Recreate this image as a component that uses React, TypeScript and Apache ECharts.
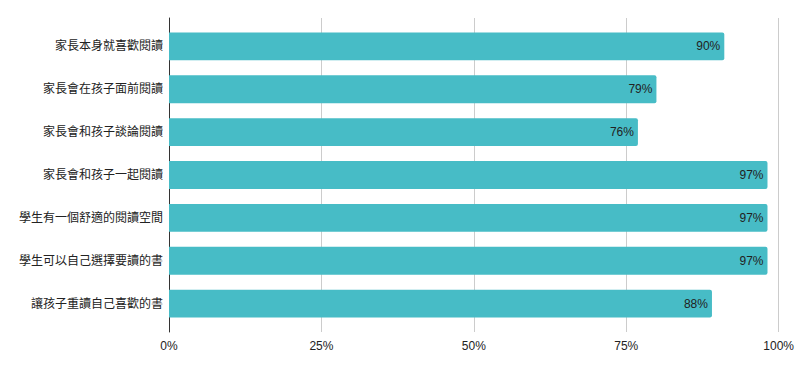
import React, { useEffect, useRef } from "react";
import * as echarts from "echarts";

const categories = [
  "家長本身就喜歡閱讀",
  "家長會在孩子面前閱讀",
  "家長會和孩子談論閱讀",
  "家長會和孩子一起閱讀",
  "學生有一個舒適的閱讀空間",
  "學生可以自己選擇要讀的書",
  "讓孩子重讀自己喜歡的書",
];
const values = [90, 79, 76, 97, 97, 97, 88];
const xTicks = [0, 25, 50, 75, 100];

export default function App() {
  const ref = useRef<HTMLDivElement>(null);
  useEffect(() => {
    if (!ref.current) return;
    const chart = echarts.init(ref.current, null, { renderer: "svg" });
    const font = "'Liberation Sans', 'Noto Sans CJK TC', sans-serif";
    chart.setOption({
      animation: false,
      textStyle: { fontFamily: font },
      grid: [
        { left: 161, right: 11, top: 17, bottom: 38, containLabel: false },
        { left: 161, right: 11, top: 10, bottom: 31, containLabel: false },
      ],
      xAxis: [
        {
          gridIndex: 0,
          type: "value",
          min: xTicks[0],
          max: xTicks[xTicks.length - 1],
          interval: 25,
          axisLine: { show: false },
          axisTick: { show: false },
          splitLine: { show: false },
          axisLabel: { show: false },
        },
        {
          gridIndex: 1,
          type: "value",
          min: xTicks[0],
          max: xTicks[xTicks.length - 1],
          interval: 25,
          axisLine: { show: false },
          axisTick: { show: false },
          splitLine: { show: true, lineStyle: { color: "#cccccc", width: 1 } },
          axisLabel: {
            formatter: (v: number) => v + "%",
            color: "#222",
            fontSize: 12,
            margin: 8,
            fontFamily: font,
          },
        },
      ],
      yAxis: [
        {
          gridIndex: 0,
          type: "category",
          data: categories,
          inverse: true,
          axisLine: { show: false },
          axisTick: { show: false },
          axisLabel: { color: "#222", fontSize: 12, margin: 6, fontFamily: font },
        },
        {
          gridIndex: 1,
          type: "value",
          min: 0,
          max: 1,
          axisLine: { show: true, lineStyle: { color: "#333", width: 1 } },
          axisTick: { show: false },
          axisLabel: { show: false },
          splitLine: { show: false },
        },
      ],
      series: [
        {
          type: "bar",
          xAxisIndex: 0,
          yAxisIndex: 0,
          z: 3,
          data: values,
          barCategoryGap: "35%",
          itemStyle: { color: "#47BCC6", borderRadius: [0, 2, 2, 0] },
          label: {
            show: true,
            position: "insideRight",
            formatter: (p: any) => p.value + "%",
            color: "#222",
            fontSize: 12,
            distance: 4,
            fontFamily: font,
          },
        },
      ],
    });
    return () => chart.dispose();
  }, []);
  return <div ref={ref} style={{ width: 789, height: 355 }} />;
}
